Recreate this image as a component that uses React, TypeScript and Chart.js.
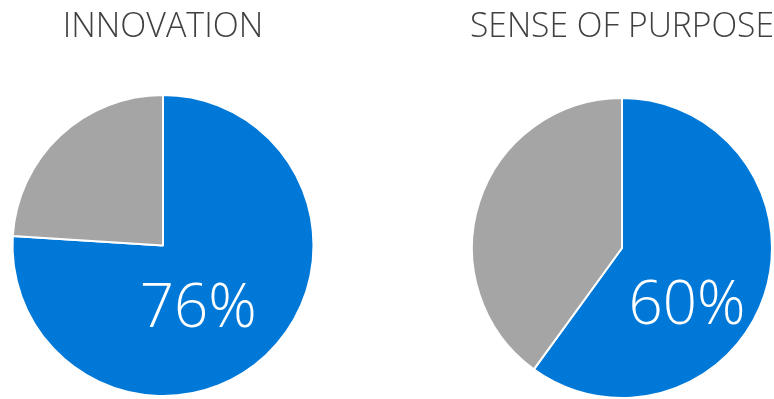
import React, { useEffect, useRef } from "react";
import { Chart, registerables } from "chart.js";

Chart.register(...registerables);

const segmentLabels = ["Yes", "No"];
const innovationValues = [76, 24];
const purposeValues = [60, 40];
const titles = ["INNOVATION", "SENSE OF PURPOSE"];
const valueLabels = ["76%", "60%"];
const colors = ["#0078D7", "#A5A5A5"];

const FONT = "'Open Sans', 'Segoe UI', sans-serif";

const labelPlugin = {
  id: "bigLabel",
  afterDatasetsDraw(chart: any, _args: any, opts: any) {
    const meta = chart.getDatasetMeta(0);
    const arc = meta.data[0];
    if (!arc) return;
    const { x, y, outerRadius } = arc.getProps(["x", "y", "outerRadius"], true);
    const th = (opts.angle * Math.PI) / 180;
    const d = outerRadius * opts.frac;
    const ctx = chart.ctx;
    ctx.save();
    ctx.fillStyle = "#ffffff";
    ctx.font = `300 ${opts.size}px ${FONT}`;
    ctx.textAlign = "center";
    ctx.textBaseline = "alphabetic";
    ctx.fillText(opts.text, x + d * Math.sin(th), y - d * Math.cos(th));
    ctx.restore();
  },
};

function Pie(props: {
  values: number[];
  title: string;
  text: string;
  angle: number;
  frac: number;
  padLeft: number;
  padBottom: number;
  titleBottom: number;
  left: number;
  width: number;
}) {
  const ref = useRef<HTMLCanvasElement>(null);
  useEffect(() => {
    if (!ref.current) return;
    const chart = new Chart(ref.current, {
      type: "pie",
      data: {
        labels: segmentLabels,
        datasets: [
          {
            data: props.values,
            backgroundColor: colors,
            borderColor: "#ffffff",
            borderWidth: 2,
          },
        ],
      },
      options: {
        responsive: false,
        animation: false,
        layout: { padding: { left: props.padLeft, right: 0, top: 0, bottom: props.padBottom } },
        plugins: {
          legend: { display: false },
          tooltip: { enabled: false },
          title: {
            display: true,
            text: props.title,
            color: "#404040",
            font: { family: FONT, size: 34, weight: "300" as any, lineHeight: 1.2 },
            padding: { top: 7.4, bottom: props.titleBottom },
          },
          bigLabel: { text: props.text, angle: props.angle, frac: props.frac, size: 60 },
        } as any,
      },
      plugins: [labelPlugin],
    });
    return () => chart.destroy();
  }, []);
  return (
    <canvas
      ref={ref}
      width={props.width}
      height={399}
      style={{ position: "absolute", left: props.left, top: 0, width: props.width, height: 399 }}
    />
  );
}

export default function App() {
  return (
    <div style={{ position: "absolute", left: 0, top: 0, width: 774, height: 399, background: "#fff" }}>
      <Pie
        values={innovationValues}
        title={titles[0]}
        text={valueLabels[0]}
        angle={156.7}
        frac={0.591}
        padLeft={0}
        padBottom={2}
        titleBottom={45.8}
        left={0}
        width={326}
      />
      <Pie
        values={purposeValues}
        title={titles[1]}
        text={valueLabels[1]}
        angle={139.6}
        frac={0.669}
        padLeft={20}
        padBottom={0}
        titleBottom={48.8}
        left={450}
        width={324}
      />
    </div>
  );
}
